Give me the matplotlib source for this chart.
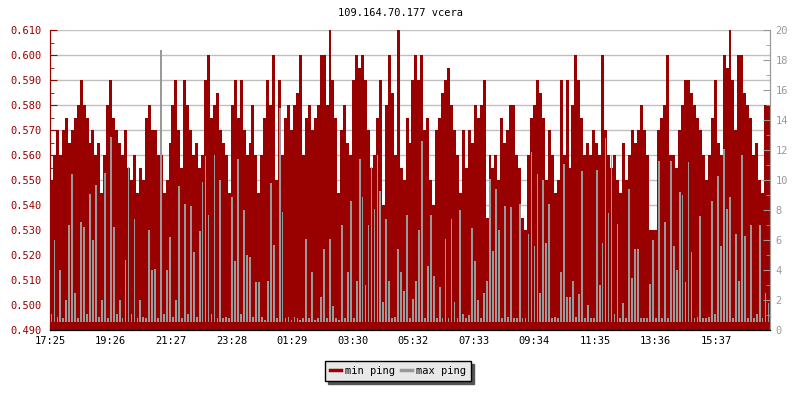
import matplotlib
matplotlib.use('Agg')
import matplotlib.pyplot as plt
import numpy as np
from matplotlib.lines import Line2D

plt.rcParams['font.family'] = 'DejaVu Sans Mono'
plt.rcParams['font.size'] = 7.5

################################################################################
# data, min ping in 1/1000 ms, max ping in ms

min_ping = np.array([
    550, 560, 570, 560, 570, 575, 565, 570, 575, 580, 590, 580, 575, 565, 570, 560, 565, 545,
    560, 580, 590, 575, 570, 565, 560, 570, 555, 550, 560, 545, 555, 550, 575, 580, 570,
    570, 560, 560, 545, 550, 565, 580, 590, 570, 555, 590, 580, 570, 560, 565, 555, 560, 590,
    600, 575, 580, 585, 570, 565, 560, 545, 580, 590, 575, 590, 570, 560, 565, 580, 560,
    545, 560, 575, 590, 580, 600, 550, 590, 560, 575, 580, 570, 580, 585, 600, 560, 575, 580,
    570, 575, 580, 600, 600, 580, 610, 590, 575, 545, 570, 580, 565, 560, 590, 600, 595,
    600, 590, 570, 555, 560, 575, 590, 540, 580, 600, 585, 560, 610, 555, 550, 575, 565, 590,
    600, 590, 600, 570, 575, 550, 540, 570, 575, 585, 590, 595, 580, 570, 560, 545, 570,
    555, 570, 565, 580, 575, 580, 590, 535, 560, 555, 560, 550, 575, 565, 570, 580, 580, 560,
    555, 535, 530, 560, 575, 580, 590, 585, 575, 550, 570, 560, 545, 550, 590, 560, 590,
    555, 580, 600, 590, 575, 560, 565, 560, 570, 565, 560, 600, 570, 560, 555, 560, 550, 545,
    565, 550, 560, 570, 565, 570, 580, 570, 560, 530, 530, 530, 570, 575, 580, 600, 560,
    560, 555, 570, 580, 590, 590, 585, 580, 575, 570, 560, 550, 560, 575, 590, 565, 560, 600,
    595, 610, 590, 570, 600, 600, 585, 580, 575, 560, 565, 550, 545, 580, 580,
]) / 1000

max_ping = np.array([
    1.1, 6.0, 0.9, 4.0, 0.8, 2.0, 7.0, 10.4, 2.5, 0.8, 7.2, 6.9, 1.1, 9.1, 6.0, 9.7, 0.9, 2.0,
    10.5, 0.8, 12.9, 6.9, 1.1, 2.0, 0.8, 4.7, 10.9, 1.1, 7.4, 0.8, 2.0, 0.9, 0.8, 6.7, 4.0,
    4.1, 0.8, 18.7, 1.1, 4.0, 6.2, 0.9, 2.0, 9.6, 0.8, 8.4, 1.1, 8.3, 5.2, 0.9, 6.6, 9.9, 11.6,
    7.7, 1.1, 11.7, 0.8, 10.0, 0.8, 0.9, 0.8, 8.9, 4.6, 11.4, 1.1, 8.0, 5.0, 4.9, 0.9, 3.2,
    3.2, 0.9, 0.7, 3.3, 9.8, 5.7, 0.8, 14.8, 7.9, 0.8, 0.9, 0.7, 0.9, 0.8, 0.7, 0.8, 6.1, 0.8,
    3.9, 0.7, 0.8, 2.2, 5.4, 0.8, 6.1, 1.6, 0.8, 0.7, 7.0, 0.8, 3.9, 8.6, 0.8, 3.3, 11.4,
    8.9, 3.0, 7.0, 10.9, 8.1, 11.7, 9.3, 1.9, 7.4, 3.3, 0.8, 0.9, 5.4, 3.9, 2.6, 7.7, 0.8, 2.1,
    3.3, 6.7, 12.6, 0.8, 4.3, 7.7, 3.6, 0.8, 2.9, 0.8, 6.1, 0.8, 7.4, 1.9, 0.8, 8.0, 1.1,
    0.8, 1.0, 6.8, 4.6, 2.0, 0.8, 2.5, 3.3, 10.1, 5.3, 9.4, 6.7, 0.8, 8.3, 0.9, 8.2, 0.8, 0.8,
    8.4, 0.8, 0.8, 6.4, 11.9, 5.6, 10.4, 2.5, 10.0, 5.8, 8.4, 0.8, 0.9, 0.8, 3.9, 11.1, 2.2,
    2.2, 3.3, 0.9, 2.4, 10.6, 0.8, 1.7, 0.8, 0.8, 10.7, 3.0, 5.8, 12.8, 7.8, 11.6, 1.1, 7.1, 0.8,
    1.8, 0.8, 9.4, 3.5, 5.4, 5.4, 0.8, 0.8, 0.8, 3.1, 6.0, 0.8, 11.3, 0.8, 7.2, 0.8, 11.3,
    5.6, 4.0, 9.2, 9.0, 3.2, 11.2, 5.2, 0.8, 0.9, 7.6, 0.8, 0.8, 0.9, 8.6, 1.1, 10.3, 5.6, 12.1,
    8.1, 8.9, 0.8, 6.4, 3.3, 11.7, 6.3, 0.8, 7.0, 0.8, 1.1, 7.0, 0.8, 2.5, 1.8,
])

tick_labels = ['17:25', '19:26', '21:27', '23:28', '01:29', '03:30',
               '05:32', '07:33', '09:34', '11:35', '13:36', '15:37']
title = '109.164.70.177 vcera'

################################################################################

red = '#990000'
grey = '#999999'

n = len(min_ping)
step = 1440 / n                        # minutes per sample, 24 h window
t = np.arange(n + 1) * step
tc = t[:-1] + step / 2

fig = plt.figure(figsize=(8, 4), dpi=100)
ax = fig.add_axes([50/800, 70/400, 720/800, 300/400])
ax2 = ax.twinx()

# min ping as area, max ping as thin spikes on top
ax.fill_between(t, np.append(min_ping, min_ping[-1]), 0.49, step='post',
                color=red, linewidth=0, zorder=2)
floor = max_ping.min() - 0.15
ax2.bar(tc, max_ping - floor, bottom=floor, width=step * 0.6,
        color=grey, linewidth=0)

ax.set_xlim(0, 1440)
ax.set_ylim(0.490, 0.610)
ax2.set_ylim(0, 20)

ax.set_yticks(np.arange(0.490, 0.6101, 0.010))
ax.set_yticks(np.arange(0.495, 0.610, 0.010), minor=True)
ax.set_yticklabels(['%.3f' % v for v in np.arange(0.490, 0.6101, 0.010)])
ax2.set_yticks(np.arange(0, 21, 2))
ax2.set_yticks(np.arange(1, 20, 2), minor=True)

ax.set_xticks(np.arange(len(tick_labels)) * 1332 / 11)
ax.set_xticklabels(tick_labels)

ax.grid(axis='y', color='#c0c0c0', linewidth=1, zorder=0)
ax.set_axisbelow(True)

ax.tick_params(axis='y', which='both', direction='in', colors=red, labelcolor=red, pad=6)
ax.tick_params(axis='y', which='major', length=5)
ax.tick_params(axis='y', which='minor', length=3)
ax.tick_params(axis='x', direction='in', length=5, color='black', pad=4)
ax2.tick_params(axis='y', which='both', direction='in', colors=grey, labelcolor=grey, pad=4)
ax2.tick_params(axis='y', which='major', length=5)
ax2.tick_params(axis='y', which='minor', length=3)

for a in (ax, ax2):
    a.spines['top'].set_visible(False)
    a.spines['left'].set_color(red)
    a.spines['right'].set_color(grey)
    a.spines['bottom'].set_color('black')

fig.text(0.5, 1 - 13/400, title, ha='center', va='center', fontsize=7.5)

handles = [Line2D([], [], color=red, linewidth=2.5),
           Line2D([], [], color=grey, linewidth=2.5)]
leg = fig.legend(handles, ['min ping', 'max ping'], loc='center',
                 bbox_to_anchor=(398/800, 1 - 371/400), ncol=2, frameon=True,
                 fancybox=False, shadow={'color': '#555555', 'alpha': 1},
                 handlelength=1.0, handletextpad=0.4, columnspacing=0.6,
                 borderpad=0.5, fontsize=7.5)
leg.get_frame().set_facecolor('#e8e8e8')
leg.get_frame().set_edgecolor('black')
leg.get_frame().set_alpha(1)

fig.savefig('out.png', dpi=100)
